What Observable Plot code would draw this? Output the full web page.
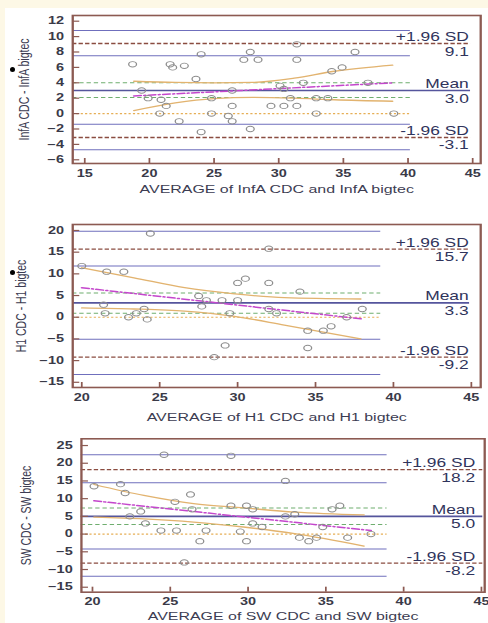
<!DOCTYPE html>
<html><head><meta charset="utf-8">
<script src="https://cdn.jsdelivr.net/npm/d3@7"></script>
<script src="https://cdn.jsdelivr.net/npm/@observablehq/plot@0.6"></script>
<style>
html,body{margin:0;padding:0;background:#fdf8e6;font-family:"Liberation Sans",Arial,sans-serif;}
#page{position:relative;width:488px;height:623px;overflow:hidden;}
#sheet{position:absolute;left:5px;top:8px;right:0;bottom:0;background:#fff;}
.panel{position:absolute;left:0;transform-origin:0 0;}
.bullet{position:absolute;width:5px;height:5px;border-radius:50%;background:#000;}
</style></head><body>
<div id="page"><div id="sheet"></div></div>
<script>
// ---------- data ----------
const refNames = ["+1.96 SD", "Mean", "-1.96 SD"];

// Panel 1: InfA
const infaAvg = [18.7, 19.4, 19.9, 20.9, 21.3, 20.8, 21.6, 21.8, 22.7, 22.3, 23.6, 24.0, 24.0, 24.8, 24.8, 26.1, 26.4, 26.4, 26.4, 27.3, 27.8, 28.4, 27.8, 29.4, 30.1, 30.4, 30.4, 30.9, 31.4, 31.4, 31.4, 31.9, 32.9, 32.9, 33.8, 34.1, 34.9, 35.9, 36.9, 38.9];
const infaDiff = [6.4, 3.0, 2.0, 1.8, 1.0, 0, 6.4, 6.0, 6.2, -1.0, 4.5, 7.7, -2.4, 2.0, 0, -0.3, 3.0, 1.0, -1.0, 7.0, 8.0, 7.0, -2.0, 1.0, 3.6, 3.2, 1.0, 2.0, 9.0, 7.0, 1.0, 4.0, 2.0, 0, 2.0, 5.5, 6.0, 8.0, 4.0, 0];
const infaRefs = [9.1, 3.0, -3.1];
const infaLimitCI = [10.8, 7.5, -1.4, -4.7];
const infaMeanCI = [4.0, 2.1];
const infaBandX = [18.8, 22, 25, 28, 31.2, 34.3, 38.8];
const infaBandUp = [4.2, 4.05, 4.0, 4.05, 4.6, 5.5, 6.3];
const infaBandLo = [0.4, 1.4, 1.95, 2.1, 2.0, 1.8, 1.6];
const infaRegX = [18.8, 38.9];
const infaRegY = [2.3, 4.0];
const infaXTicks = [15, 20, 25, 30, 35, 40, 45];
const infaYTicks = [-6, -4, -2, 0, 2, 4, 6, 8, 10, 12];

// Panel 2: H1
const h1Avg = [20.0, 21.6, 22.7, 21.4, 21.5, 23.0, 23.5, 24.0, 24.2, 24.4, 27.5, 27.7, 28.0, 28.5, 29.0, 29.2, 29.5, 30.0, 30.0, 30.5, 32.0, 32.0, 32.0, 32.5, 34.0, 34.5, 34.5, 35.5, 36.0, 37.0, 38.0];
const h1Diff = [11.8, 10.5, 10.5, 2.9, 0.9, 0, 0.9, 1.9, -0.5, 19.3, 4.9, 2.5, 3.9, -9.2, 3.9, -6.5, 0.9, 7.9, 3.9, 8.9, 15.8, 7.9, 1.9, 0.9, 5.9, -3.1, -7.1, -3.1, -2.1, 0, 1.9];
const h1Refs = [15.7, 3.3, -9.2];
const h1LimitCI = [19.8, 11.8, -5.1, -13.2];
const h1MeanCI = [5.6, 0.9];
const h1BandX = [20, 23.35, 26.6, 29.8, 33.0, 37.9];
const h1BandUp = [11.4, 9.1, 6.8, 5.4, 4.5, 4.2];
const h1BandLo = [2.15, 1.9, 1.4, 0.2, -1.8, -5.0];
const h1RegX = [20, 38];
const h1RegY = [6.8, -0.4];
const h1XTicks = [20, 25, 30, 35, 40, 45];
const h1YTicks = [-15, -10, -5, 0, 5, 10, 15, 20];

// Panel 3: SW
const swAvg = [20.1, 21.8, 22.1, 22.4, 23.4, 23.1, 24.4, 24.6, 25.3, 25.4, 25.9, 26.3, 26.4, 26.9, 27.3, 28.9, 28.9, 29.5, 29.9, 29.9, 30.3, 30.3, 30.9, 32.4, 32.4, 33.0, 33.3, 33.9, 34.4, 34.8, 35.4, 35.9, 36.4, 37.9];
const swDiff = [13.5, 14.1, 11.6, 5.0, 3.0, 6.4, 1.0, 22.4, 9.1, 1.0, -8.0, 11.2, 7.0, -2.0, 1.0, 22.1, 8.0, 0.7, 8.0, -2.0, 7.0, 3.0, 2.0, 15.0, 5.0, 5.6, -1.0, -2.0, -1.0, 2.0, 7.0, 8.0, -1.0, 0];
const swRefs = [18.2, 5.0, -8.2];
const swLimitCI = [22.4, 14.5, -4.2, -11.9];
const swMeanCI = [7.4, 2.7];
const swBandX = [20.1, 23.3, 26.5, 29.7, 33.0, 37.45];
const swBandUp = [14.0, 10.9, 8.6, 7.4, 6.2, 5.4];
const swBandLo = [4.8, 4.3, 3.4, 2.0, 0.1, -3.4];
const swRegX = [20.1, 37.9];
const swRegY = [9.4, 1.0];
const swXTicks = [20, 25, 30, 35, 40, 45];
const swYTicks = [-15, -10, -5, 0, 5, 10, 15, 20, 25];

// ---------- styling / layout ----------
const SX = 1.45;              // horizontal stretch of the original picture
const W = 488 / SX;
const BLUE = "#6f6fbd", MEANC = "#55559c", GREEN = "#6fae6f", ORANGE = "#e6ae55",
      BROWN = "#8a4c40", TAN = "#e2b36f", MAGENTA = "#c447cc", FRAME = "#8c5a52",
      TXT = "#3c3c52", LBL = "#30345c", PT = "#8d8d8d", TICKTXT = "#3a3a48";

function makePanel(c) {
  const pts = c.avg.map((a, i) => ({a, d: c.diff[i]}));
  const up = c.bandX.map((x, i) => ({x, y: c.bandUp[i]}));
  const lo = c.bandX.map((x, i) => ({x, y: c.bandLo[i]}));
  const reg = c.regX.map((x, i) => ({x, y: c.regY[i]}));
  const ml = c.fl / SX, mr = (488 - c.fr) / SX, mt = c.ft - c.top, mb = c.top + c.h - c.fb;
  const ph = c.fb - c.ft, pw = (c.fr - c.fl) / SX;
  const x0 = c.x[0], y0 = c.y[0];
  const xTickLen = (c.y[1] - c.y[0]) * 5 / ph;
  const yTickLen = (c.x[1] - c.x[0]) * 5 / pw;
  const svg = Plot.plot({
    width: W, height: c.h,
    marginLeft: ml, marginRight: mr, marginTop: mt, marginBottom: mb,
    style: {background: "transparent", overflow: "visible", color: TICKTXT, fontFamily: "'Liberation Sans', Arial, sans-serif"},
    x: {domain: c.x}, y: {domain: c.y},
    marks: [
      Plot.ruleY(c.limitCI, {x1: x0, x2: c.shortEnd, stroke: BLUE, strokeWidth: 1}),
      Plot.ruleY(c.meanCI, {x1: x0, x2: c.shortEnd, stroke: GREEN, strokeWidth: 1, strokeDasharray: "3,2"}),
      Plot.ruleY([0], {x1: x0, x2: c.shortEnd, stroke: ORANGE, strokeWidth: 1.2, strokeDasharray: "1.5,1.5"}),
      Plot.ruleY([c.refs[0], c.refs[2]], {x1: x0, x2: c.longEnd, stroke: BROWN, strokeWidth: 1.4, strokeDasharray: "3,1.5"}),
      Plot.ruleY([c.refs[1]], {x1: x0, x2: c.longEnd, stroke: MEANC, strokeWidth: 1.6}),
      Plot.line(up, {x: "x", y: "y", curve: "monotone-x", stroke: TAN, strokeWidth: 1.3}),
      Plot.line(lo, {x: "x", y: "y", curve: "monotone-x", stroke: TAN, strokeWidth: 1.3}),
      Plot.line(reg, {x: "x", y: "y", stroke: MAGENTA, strokeWidth: 1.5, strokeDasharray: "5,2,1,2"}),
      Plot.dot(pts, {x: "a", y: "d", r: 2.7, stroke: PT, strokeWidth: 0.9, fill: "none"}),
      Plot.ruleX(c.xTicks, {y1: y0, y2: y0 + xTickLen, stroke: FRAME, strokeWidth: 1.2}),
      Plot.ruleY(c.yTicks, {x1: x0, x2: x0 + yTickLen, stroke: FRAME, strokeWidth: 1.2}),
      Plot.frame({stroke: FRAME, strokeWidth: 1.6}),
      Plot.axisX({ticks: c.xTicks, tickSize: 0, tickPadding: 6, label: null, fontSize: 10, fontWeight: "bold"}),
      Plot.axisY({ticks: c.yTicks, tickSize: 0, tickPadding: 6, label: null, fontSize: 10, fontWeight: "bold"}),
      Plot.text([c.xTitle], {frameAnchor: "bottom", lineAnchor: "bottom", textAnchor: "middle", dy: c.xTitleDy, text: d => d, fontSize: 11, fill: TXT}),
      Plot.text([c.yTitle], {frameAnchor: "left", textAnchor: "middle", lineAnchor: "middle", rotate: -90, dx: c.yTitleDx, text: d => d, fontSize: 10.5, fill: TXT}),
      Plot.text(c.refs, {x: c.textX, y: d => d, text: (d, i) => refNames[i], textAnchor: "end", lineAnchor: "bottom", dy: -2.5, fontSize: 12, fill: LBL}),
      Plot.text(c.refs, {x: c.textX, y: d => d, text: d => d.toFixed(1), textAnchor: "end", lineAnchor: "top", dy: 3.5, fontSize: 12, fill: LBL})
    ]
  });
  const div = document.createElement("div");
  div.className = "panel";
  div.style.top = c.top + "px";
  div.style.width = W + "px";
  div.style.transform = `scale(${SX}, 1)`;
  div.appendChild(svg);
  document.getElementById("page").appendChild(div);
}

makePanel({
  avg: infaAvg, diff: infaDiff, refs: infaRefs, limitCI: infaLimitCI, meanCI: infaMeanCI,
  bandX: infaBandX, bandUp: infaBandUp, bandLo: infaBandLo, regX: infaRegX, regY: infaRegY,
  xTicks: infaXTicks, yTicks: infaYTicks,
  xTitle: "AVERAGE of InfA CDC and InfA bigtec", yTitle: "InfA CDC - InfA bigtec",
  top: 0, h: 200, fl: 72, fr: 480, ft: 15, fb: 163,
  x: [14.07, 45.62], y: [-6.48, 12.74], shortEnd: 40.2, longEnd: 44.85, textX: 44.7,
  xTitleDy: 30, yTitleDx: (23 - 72) / SX
});
makePanel({
  avg: h1Avg, diff: h1Diff, refs: h1Refs, limitCI: h1LimitCI, meanCI: h1MeanCI,
  bandX: h1BandX, bandUp: h1BandUp, bandLo: h1BandLo, regX: h1RegX, regY: h1RegY,
  xTicks: h1XTicks, yTicks: h1YTicks,
  xTitle: "AVERAGE of H1 CDC and H1 bigtec", yTitle: "H1 CDC - H1 bigtec",
  top: 200, h: 225, fl: 72, fr: 480, ft: 224, fb: 387,
  x: [19.42, 45.6], y: [-16.2, 21.38], shortEnd: 39.2, longEnd: 44.9, textX: 44.83,
  xTitleDy: 34, yTitleDx: (20 - 72) / SX
});
makePanel({
  avg: swAvg, diff: swDiff, refs: swRefs, limitCI: swLimitCI, meanCI: swMeanCI,
  bandX: swBandX, bandUp: swBandUp, bandLo: swBandLo, regX: swRegX, regY: swRegY,
  xTicks: swXTicks, yTicks: swYTicks,
  xTitle: "AVERAGE of SW CDC and SW bigtec", yTitle: "SW CDC - SW bigtec",
  top: 425, h: 198, fl: 80.7, fr: 484, ft: 438.3, fb: 591.7,
  x: [19.29, 45.21], y: [-16.4, 26.9], shortEnd: 38.95, longEnd: 45.1, textX: 44.6,
  xTitleDy: 28, yTitleDx: (25 - 80.7) / SX
});

// stray bullet marks present in the original image
for (const [bx, by] of [[10.2, 66.8], [10.2, 269.8]]) {
  const b = document.createElement("div");
  b.className = "bullet";
  b.style.left = bx + "px"; b.style.top = by + "px";
  document.getElementById("page").appendChild(b);
}
</script>
</body></html>
